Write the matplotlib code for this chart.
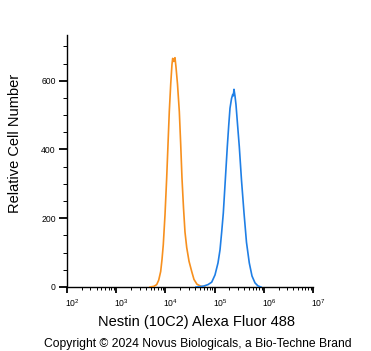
import numpy as np
import matplotlib
matplotlib.use("Agg")
import matplotlib.pyplot as plt
from matplotlib.ticker import LogLocator, MultipleLocator
from matplotlib.transforms import ScaledTranslation

plt.rcParams['font.family'] = ['Liberation Sans', 'DejaVu Sans']

# isotype control (orange) - intensity vs relative cell number
iso_x = [4864, 5861, 6653, 7311, 8017, 8531, 9057, 9817, 10617, 11298,
         11995, 12823, 13614, 14060, 14825, 15668, 16406, 17620, 19187,
         20464, 21727, 23335, 25003, 27102, 30200, 34277, 38107, 43853,
         52966, 63826]
iso_y = [0, 2, 7, 20, 45, 80, 123, 210, 317, 415,
         510, 590, 648, 665, 656, 667, 640, 590, 510,
         415, 317, 230, 160, 115, 75, 45, 22, 8,
         2, 0]

# Nestin (10C2) stained (blue)
nes_x = [41879, 50466, 60954, 73451, 87297, 101859, 117220, 128825, 139316,
         150314, 164816, 181134, 193642, 205589, 220800, 233346, 239883,
         247742, 260016, 272270, 291743, 317687, 352371, 396278, 444631,
         506991, 575440, 662217, 762079, 877001]
nes_y = [0, 1, 3, 7, 14, 35, 70, 108, 160,
         215, 310, 408, 470, 520, 548, 560, 556,
         575, 555, 530, 475, 408, 310, 215, 130,
         70, 32, 12, 3, 0]

fig = plt.figure(figsize=(3.71, 3.51), dpi=100)
ax = fig.add_axes([67 / 371, 1 - 287 / 351, 246 / 371, 252 / 351])

ax.plot(iso_x, iso_y, color='#f7901e', lw=1.2, zorder=3)
ax.plot(nes_x, nes_y, color='#1f7fe6', lw=1.2, zorder=3)

ax.set_xscale('log')
ax.set_xlim(1e2, 1e7)
ax.set_ylim(0, 733)

ax.spines['top'].set_visible(False)
ax.spines['right'].set_visible(False)
for s in ('left', 'bottom'):
    ax.spines[s].set_linewidth(1.0)

ax.xaxis.set_major_locator(LogLocator(base=10, numticks=10))
ax.xaxis.set_minor_locator(LogLocator(base=10, subs=np.arange(2, 10), numticks=20))
ax.yaxis.set_major_locator(MultipleLocator(200))
ax.yaxis.set_minor_locator(MultipleLocator(50))

ax.tick_params(axis='x', which='major', length=4.5, width=1.3, labelsize=6.2, pad=3)
ax.tick_params(axis='x', which='minor', length=2.3, width=0.7)
ax.tick_params(axis='y', which='major', length=5.5, width=1.3, labelsize=6.2, pad=2.5)
ax.tick_params(axis='y', which='minor', length=2.8, width=0.7)

fig.canvas.draw()
off = ScaledTranslation(-2 / 100, 0, fig.dpi_scale_trans)
for lab in ax.get_xticklabels():
    lab.set_horizontalalignment('left')
    lab.set_transform(lab.get_transform() + off)

fig.text(15.5 / 371, 1 - 143 / 351, 'Relative Cell Number', rotation=90,
         ha='center', va='center', fontsize=10.5)
fig.text(196 / 371, 1 - 322 / 351, 'Nestin (10C2) Alexa Fluor 488',
         ha='center', va='center', fontsize=10.5)
fig.text(198 / 371, 1 - 344 / 351,
         'Copyright \u00a9 2024 Novus Biologicals, a Bio-Techne Brand',
         ha='center', va='center', fontsize=8.7)

fig.savefig('out.png', dpi=100)
